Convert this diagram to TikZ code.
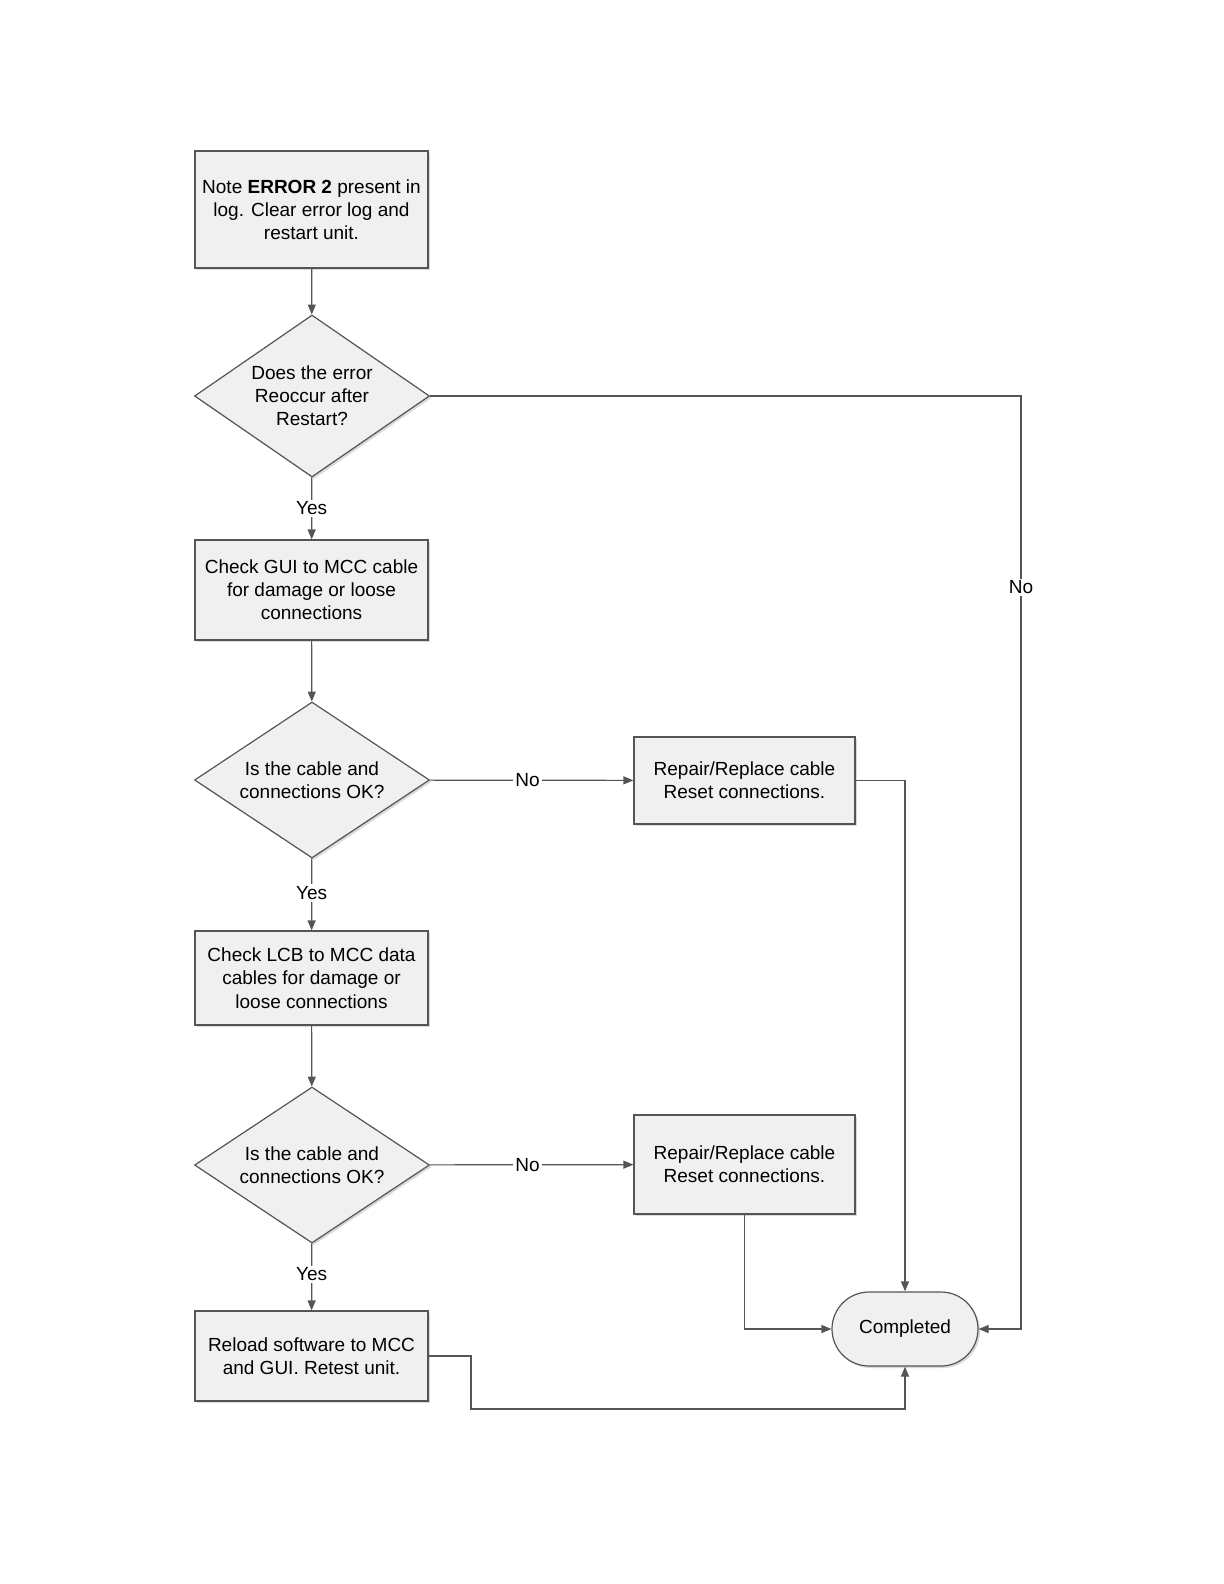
\documentclass[tikz,border=0pt]{standalone}
\usepackage{fontspec}
\setmainfont{Liberation Sans}
\usetikzlibrary{shapes.geometric,shapes.misc,arrows.meta,shadows}
\definecolor{edge}{HTML}{555555}
\definecolor{boxfill}{HTML}{F0F0F0}
\tikzset{
  px/.style={x=0.5pt,y=-0.5pt},
  base/.style={draw=edge, line width=0.6pt, fill=boxfill, align=center,
    font=\fontsize{9.5}{11.6}\selectfont, inner sep=0pt,
    drop shadow={shadow xshift=1pt, shadow yshift=-1pt, fill=black!25, opacity=0.6}},
  procbox/.style={base, rectangle, minimum width=116.5pt},
  decision/.style={base, diamond, shape aspect=1.5, minimum width=117.5pt, minimum height=79pt},
  term/.style={base, rounded rectangle, minimum width=73pt, minimum height=37pt},
  arr/.style={draw=edge, line width=0.6pt, -{Triangle[length=5pt,width=4pt]}},
  lbl/.style={fill=white, inner sep=1pt, font=\fontsize{9.5}{11.6}\selectfont}
}
\begin{document}
\begin{tikzpicture}[px]
\useasboundingbox (0,0) rectangle (1224,1584);
\node[procbox, minimum height=58.5pt] (b1) at (311.5,209.5) {Note \textbf{ERROR 2} present in\\log. Clear error log and\\restart unit.};
\node[decision, minimum height=81pt] (d1) at (312,396) {Does the error\\Reoccur after\\Restart?};
\node[procbox, minimum height=50pt] (b2) at (311.5,590) {Check GUI to MCC cable\\for damage or loose\\connections};
\node[decision, minimum height=78pt] (d2) at (312,780) {Is the cable and\\connections OK?};
\node[procbox, minimum height=47pt] (b3) at (311.5,978) {Check LCB to MCC data\\cables for damage or\\loose connections};
\node[decision, minimum height=78pt] (d3) at (312,1165) {Is the cable and\\connections OK?};
\node[procbox, minimum height=45pt] (b4) at (311.5,1356) {Reload software to MCC\\and GUI. Retest unit.};
\node[procbox, minimum width=110.5pt, minimum height=43.5pt] (r1) at (744.5,780.5) {Repair/Replace cable\\Reset connections.};
\node[procbox, minimum width=110.5pt, minimum height=49.5pt] (r2) at (744.5,1164.5) {Repair/Replace cable\\Reset connections.};
\node[term] (c) at (905,1329) {Completed};
\coordinate (k1) at (1021,396);
\coordinate (k2) at (1021,1329);
\coordinate (k3) at (905,780.5);
\coordinate (k4) at (744.5,1329);
\coordinate (k5) at (471,1356);
\coordinate (k6) at (471,1409);
\coordinate (k7) at (905,1409);

\draw[arr] (b1) -- (d1);
\draw[arr] (d1) -- node[lbl, pos=0.5] {Yes} (b2);
\draw[arr] (b2) -- (d2);
\draw[arr] (d2) -- node[lbl, pos=0.48] {Yes} (b3);
\draw[arr] (b3) -- (d3);
\draw[arr] (d3) -- node[lbl, pos=0.46] {Yes} (b4);
\draw[arr] (d2) -- node[lbl, pos=0.48] {No} (r1);
\draw[arr] (d3) -- node[lbl, pos=0.48] {No} (r2);
\draw[arr] (d1.east) -- (k1) -- node[lbl, pos=0.205] {No} (k2) -- (c.east);
\draw[arr] (r1.east) -- (k3) -- (c.north);
\draw[arr] (r2.south) -- (k4) -- (c.west);
\draw[arr] (b4.east) -- (k5) -- (k6) -- (k7) -- (c.south);
\end{tikzpicture}
\end{document}
